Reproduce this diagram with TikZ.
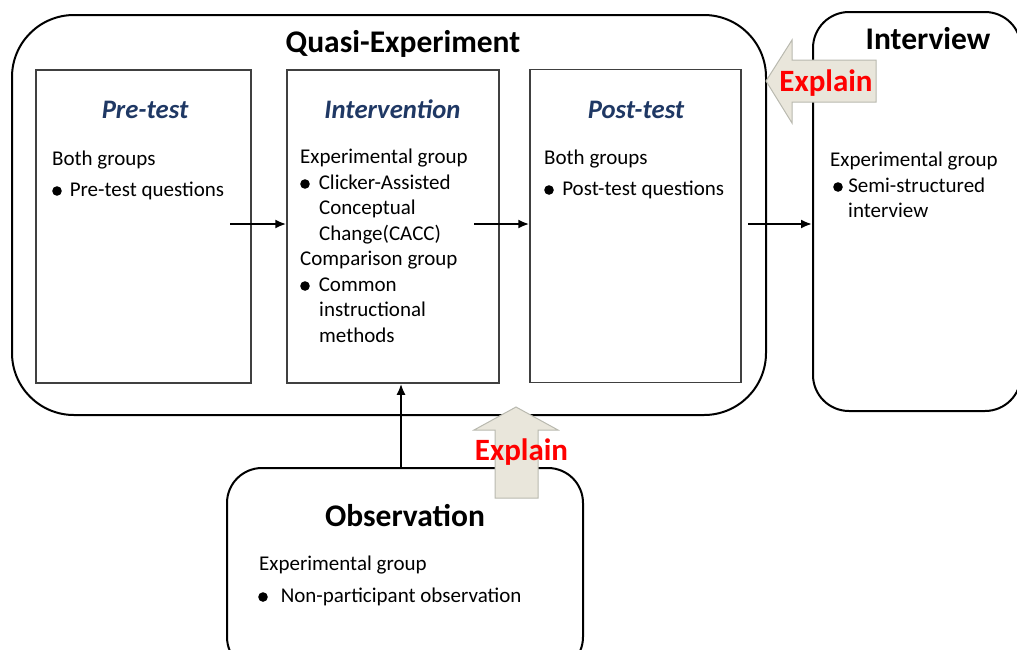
\documentclass[tikz,border=0pt]{standalone}
\usepackage{fontspec}
\setmainfont{Carlito}
\usetikzlibrary{arrows.meta}

\definecolor{titleblue}{RGB}{31,56,100}
\definecolor{explainfill}{RGB}{233,230,219}
\definecolor{explainedge}{RGB}{185,185,175}

%bullet of the lists, optional gap before the text
\newcommand{\blt}[1][10pt]{\tikz[baseline=-5pt]\fill (0,0) circle (4.8pt);\hspace{#1}}

\begin{document}
\begin{tikzpicture}[x=1pt, y=-1pt,
	phasebox/.style={draw=black, line width=2pt, rounded corners=#1, inner sep=0pt},
	stagebox/.style={draw=black!75, line width=1.5pt, inner sep=0pt},
	titletext/.style={font=\fontsize{31.5}{36}\selectfont\bfseries, inner sep=0pt, anchor=base},
	stagetitle/.style={font=\fontsize{26.7}{32}\selectfont\bfseries\itshape, text=titleblue, inner sep=0pt, anchor=base},
	bodytext/.style={font=\fontsize{21}{25.5}\selectfont, inner sep=0pt, anchor=base west},
	flow/.style={-{Latex[length=11pt,width=9pt]}, line width=2pt},
	explainarrow/.style={fill=explainfill, draw=explainedge, line width=1pt},
	explaintext/.style={font=\fontsize{31}{36}\selectfont\bfseries, text=red, inner sep=0pt, anchor=base}]

	\useasboundingbox (0,0) rectangle (1017,649);

	%phases of the study
	\node[phasebox=62pt, minimum width=754pt, minimum height=400pt] (quasiExp) at (389,215) {};
	\node[phasebox=36pt, minimum width=208pt, minimum height=399pt] (interview) at (917,211.5) {};
	\node[phasebox=35pt, minimum width=356pt, minimum height=204pt] (observation) at (405,570) {};

	%stages of the quasi-experiment
	\node[stagebox, minimum width=215pt, minimum height=313pt] (preTest) at (143.5,226.5) {};
	\node[stagebox, minimum width=212pt, minimum height=313pt] (intervention) at (393,226.5) {};
	\node[stagebox, minimum width=211pt, minimum height=313pt] (postTest) at (635.5,226) {};

	%titles
	\node[titletext] (quasiTitle) at (403,52) {Quasi-Experiment};
	\node[titletext] (interviewTitle) at (928,49.5) {Interview};
	\node[titletext] (observationTitle) at (405,526.5) {Observation};
	\node[stagetitle] (preTitle) at (145,118.5) {Pre-test};
	\node[stagetitle] (interventionTitle) at (392.5,118.5) {Intervention};
	\node[stagetitle] (postTitle) at (636,118) {Post-test};

	%pre-test text
	\node[bodytext] (preGroup) at (52,165) {Both groups};
	\node[bodytext] (preItem) at (52,196) {\blt[8pt]Pre-test questions};

	%intervention text
	\node[bodytext] (expGroup) at (300,163.5) {Experimental group};
	\node[bodytext] (expItemA) at (300,189) {\blt[9pt]Clicker-Assisted};
	\node[bodytext] (expItemB) at (319,214.5) {Conceptual};
	\node[bodytext] (expItemC) at (319,240) {Change(CACC)};
	\node[bodytext] (cmpGroup) at (300,265.5) {Comparison group};
	\node[bodytext] (cmpItemA) at (300,291) {\blt[9pt]Common};
	\node[bodytext] (cmpItemB) at (319,316.5) {instructional};
	\node[bodytext] (cmpItemC) at (319,342) {methods};

	%post-test text
	\node[bodytext] (postGroup) at (544,164) {Both groups};
	\node[bodytext] (postItem) at (544,195) {\blt[8.5pt]Post-test questions};

	%interview text
	\node[bodytext] (intGroup) at (830,166) {Experimental group};
	\node[bodytext] (intItemA) at (833,192) {\blt[5.5pt]Semi-structured};
	\node[bodytext] (intItemB) at (848,217.5) {interview};

	%observation text
	\node[bodytext] (obsGroup) at (259,570.5) {Experimental group};
	\node[bodytext] (obsItem) at (258,602) {\blt[13pt]Non-participant observation};

	%flow between the stages
	\coordinate (preOut) at (230,224);
	\coordinate (interventionOut) at (474,224);
	\coordinate (postOut) at (748,224);
	\coordinate (obsOut) at (401,468);
	\draw[flow] (preOut) -- (preOut -| intervention.west);
	\draw[flow] (interventionOut) -- (interventionOut -| postTest.west);
	\draw[flow] (postOut) -- (postOut -| interview.west);
	\draw[flow] (obsOut) -- (obsOut |- intervention.south);

	%explain block arrows, drawn over the borders
	\draw[explainarrow] (766,81) -- (792,40) -- (792,60) -- (876,60) -- (876,102) -- (792,102) -- (792,123) -- cycle;
	\draw[explainarrow] (516,407) -- (558,430) -- (538,430) -- (538,498) -- (495,498) -- (495,430) -- (474,430) -- cycle;
	\node[explaintext] (explainTop) at (826,91) {Explain};
	\node[explaintext] (explainBottom) at (521.5,460) {Explain};

\end{tikzpicture}
\end{document}
